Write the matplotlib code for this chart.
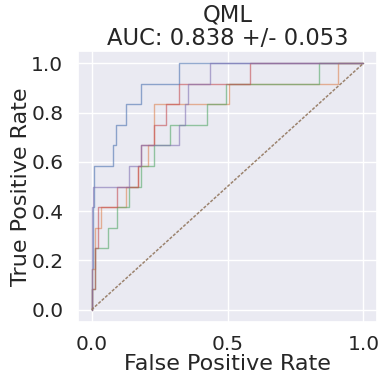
import matplotlib
matplotlib.use("Agg")
import matplotlib.pyplot as plt
import seaborn as sns
import numpy as np

sns.set_theme(font_scale=1.25)
plt.rcParams['font.family'] = ['DejaVu Sans']

title = "QML\nAUC: 0.838 +/- 0.053"
xlabel = "False Positive Rate"
ylabel = "True Positive Rate"

# TPR expressed in units of 1/12 (12 positives per fold)
fold1_fpr = [0, 0, 0.005, 0.005, 0.01, 0.01, 0.08, 0.08, 0.091, 0.091, 0.126, 0.126, 0.183, 0.183, 0.32, 0.32, 1]
fold1_tpr = [0, 2, 2, 5, 5, 7, 7, 8, 8, 9, 9, 10, 10, 11, 11, 12, 12]

fold2_fpr = [0, 0, 0.011, 0.011, 0.033, 0.033, 0.126, 0.126, 0.172, 0.172, 0.206, 0.206, 0.23, 0.23, 0.504, 0.504, 0.906, 0.906, 1]
fold2_tpr = [0, 2, 2, 4, 4, 5, 5, 6, 6, 7, 7, 8, 8, 10, 10, 11, 11, 12, 12]

fold3_fpr = [0, 0, 0.011, 0.011, 0.06, 0.06, 0.093, 0.093, 0.138, 0.138, 0.183, 0.183, 0.229, 0.229, 0.287, 0.287, 0.425, 0.425, 0.495, 0.495, 0.838, 0.838, 1]
fold3_tpr = [0, 1, 1, 3, 3, 4, 4, 5, 5, 6, 6, 7, 7, 8, 8, 9, 9, 10, 10, 11, 11, 12, 12]

fold4_fpr = [0, 0, 0.011, 0.011, 0.023, 0.023, 0.093, 0.093, 0.172, 0.172, 0.183, 0.183, 0.23, 0.23, 0.275, 0.275, 0.32, 0.32, 0.583, 0.583, 1]
fold4_tpr = [0, 1, 1, 3, 3, 5, 5, 6, 6, 7, 7, 8, 8, 9, 9, 10, 10, 11, 11, 12, 12]

fold5_fpr = [0, 0, 0.005, 0.005, 0.139, 0.139, 0.183, 0.183, 0.32, 0.32, 0.345, 0.345, 0.355, 0.355, 0.436, 0.436, 1]
fold5_tpr = [0, 5, 5, 6, 6, 7, 7, 8, 8, 9, 9, 10, 10, 11, 11, 12, 12]

folds_fpr = [fold1_fpr, fold2_fpr, fold3_fpr, fold4_fpr, fold5_fpr]
folds_tpr = [fold1_tpr, fold2_tpr, fold3_tpr, fold4_tpr, fold5_tpr]
n_pos = 12

fig = plt.figure(figsize=(3.82, 3.74), dpi=100)
ax = fig.add_axes([78/382, 52/374, (377-78)/382, (323-52)/374])

for f, t in zip(folds_fpr, folds_tpr):
    ax.plot(f, np.array(t) / n_pos, lw=1, alpha=0.6)

ax.plot([0, 1], [0, 1], linestyle=(0, (2, 1)), lw=1.1, alpha=0.9)

ax.set_xlim(-0.05, 1.05)
ax.set_ylim(-0.05, 1.05)
ax.set_xticks([0, 0.5, 1.0])
ax.set_yticks([0, 0.2, 0.4, 0.6, 0.8, 1.0])
ax.tick_params(axis='x', labelsize=14.5, pad=3)
ax.tick_params(axis='y', labelsize=14.5, pad=4.5)
ax.set_xlabel(xlabel, fontsize=16, labelpad=0)
ax.set_ylabel(ylabel, fontsize=16, labelpad=0)
ax.set_title(title, fontsize=16.3, pad=4, linespacing=1.05)

fig.savefig("out.png", dpi=100)
